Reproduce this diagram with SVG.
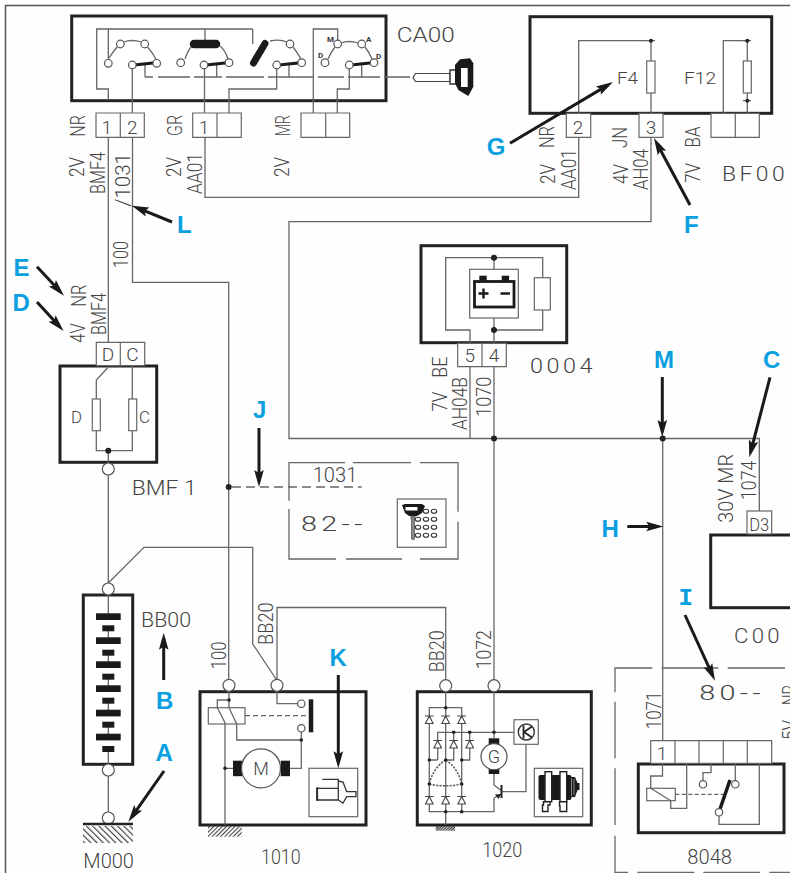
<svg xmlns="http://www.w3.org/2000/svg" width="790" height="873" viewBox="0 0 790 873">
<style>
.w{fill:none;stroke:#666;stroke-width:1.3}
.d{fill:none;stroke:#666;stroke-width:1.3;stroke-dasharray:9 5}
.b{fill:#fff;stroke:#222;stroke-width:3}
.f{fill:#fff;stroke:#666;stroke-width:1.2}
.c{fill:#fff;stroke:#555;stroke-width:1.2}
.k{fill:#1a1a1a;stroke:none}
.tb{fill:none;stroke:#1a1a1a;stroke-width:3;stroke-linecap:round}
.a{fill:none;stroke:#1a1a1a;stroke-width:3}
text{font-family:"Roboto","Liberation Sans",sans-serif;font-weight:300;fill:#444;font-size:20px}
.s{font-size:15px}
.m{font-size:19px;text-anchor:middle}
.y{font-size:8px;font-weight:700;fill:#333}
.l{font-family:"Liberation Sans",sans-serif;font-weight:700;fill:#0a9fe0;font-size:24px}
.e{text-anchor:middle}
.n{letter-spacing:3px}
</style>
<defs>
<marker id="arr" markerUnits="userSpaceOnUse" markerWidth="18" markerHeight="12" refX="11" refY="6" orient="auto"><path d="M0 1.2L17 6L0 10.8L3 6z" fill="#1a1a1a"/></marker>
<pattern id="h1" width="4.4" height="4.4" patternUnits="userSpaceOnUse" patternTransform="rotate(-45)"><rect width="1.2" height="4.4" fill="#444"/></pattern>
<pattern id="h2" width="3" height="3" patternUnits="userSpaceOnUse" patternTransform="rotate(45)"><rect width="1.1" height="3" fill="#444"/></pattern>
<pattern id="h3" width="2" height="2" patternUnits="userSpaceOnUse" patternTransform="rotate(45)"><rect width="1.2" height="2" fill="#333"/></pattern>
</defs>
<rect width="790" height="873" fill="#fefefe"/>
<path d="M790 5.5H5.5V873" fill="none" stroke="#555" stroke-width="1.5"/>

<g id="connectors">
<path class="w" d="M108.3 137V583"/>
<path class="w" d="M132.5 137V282.3H228.7V680"/>
<path class="w" d="M205 137V197.3H578.7V137"/>
<path class="w" d="M651 137V221.7H289V438.5H759.3V511"/>
<path class="w" d="M470 366V438.5"/>
<path class="w" d="M494 366V680"/>
<path class="w" d="M662.7 438.5V741"/>
<path class="w" d="M108.3 583L144 547.3H252.7V644L276.7 680"/>
<path class="w" d="M277 680V607.5H445.7V680"/>
<path class="w" d="M108.3 776V812"/>
<path class="d" d="M232 487H361.7"/>
<circle cx="228.7" cy="487" r="3" fill="#222"/>
<circle cx="494" cy="438.5" r="3" fill="#222"/>
<circle cx="662.7" cy="438.5" r="3" fill="#222"/>
</g>

<g id="CA00">
<rect class="b" x="71.7" y="16" width="314.3" height="84.7"/>
<path class="w" d="M108.3 100V89H96.7V29H252.7M108.3 29V58M108.3 59Q113 52 117 47M123.5 42Q132 39 141.5 42M147.5 47Q152 52 156 59"/>
<path class="w" d="M205 29V40M185 59Q188 50 192 46M220 46Q225 50 228 59M252.7 29V44"/>
<path class="w" d="M270 41Q280 39 287 42M293 47Q297 52 301 59"/>
<path class="w" d="M313.3 113V29H337.7V40M328 59Q331 52 335 47M341 43Q349 40 358.5 43M365 47Q369 52 372 59"/>
<path class="w" d="M132.3 69V113M204.5 69V113M276.7 69V89H229V113M349.3 69V89H337.3V113M216.7 64V77M289 64V77M361.7 64V77M145 65V77"/>
<path class="w" d="M145 77H153M158 77H190M194 77H222M226 77H264M268 77H314M318 77H344M348 77H380M384 77H410"/>
<path class="tb" d="M134 65L153 63M206 65L225 63M279 65L298 63M351 65L370 63"/>
<path d="M194 44H216" stroke="#1a1a1a" stroke-width="8.5" stroke-linecap="round"/>
<path d="M253.5 63L265 43.5" stroke="#1a1a1a" stroke-width="7" stroke-linecap="round"/>
<g class="c"><circle cx="108.3" cy="63.3" r="3.8"/><circle cx="120.3" cy="44" r="3.8"/><circle cx="144.7" cy="44" r="3.8"/><circle cx="156.7" cy="63.3" r="3.8"/><circle cx="132.3" cy="65" r="3.8"/>
<circle cx="180.7" cy="62.7" r="3.8"/><circle cx="229" cy="62.7" r="3.8"/><circle cx="204" cy="65" r="3.8"/>
<circle cx="290" cy="44" r="3.8"/><circle cx="301.7" cy="62.7" r="3.8"/><circle cx="276.7" cy="65" r="3.8"/>
<circle cx="325" cy="62.7" r="3.8"/><circle cx="337.7" cy="44" r="3.8"/><circle cx="361.7" cy="44" r="3.8"/><circle cx="374" cy="62.7" r="3.8"/><circle cx="349.3" cy="65" r="3.8"/></g>
<text class="y" x="327" y="42">M</text><text class="y" x="366" y="42">A</text><text class="y" x="318" y="58">D</text><text class="y" x="376" y="59">D</text>
<path class="f" d="M96 113H144.3V137.3H96ZM120.3 113V137.3M192.7 113H241.3V137.3H192.7ZM217 113V137.3M301 113H349.7V137.3H301ZM325.7 113V137.3"/>
<text class="m" x="106.7" y="133.5">1</text><text class="m" x="132.3" y="133.5">2</text><text class="m" x="204" y="133.5">1</text>
<text x="396.7" y="42.3" textLength="58" lengthAdjust="spacingAndGlyphs">CA00</text>
<text transform="translate(85,136.7) rotate(-90)" textLength="21.7" lengthAdjust="spacingAndGlyphs">NR</text>
<text transform="translate(84,177) rotate(-90)" textLength="20" lengthAdjust="spacingAndGlyphs">2V</text>
<text transform="translate(105,194) rotate(-90)" textLength="42" lengthAdjust="spacingAndGlyphs">BMF4</text>
<text transform="translate(130,206.7) rotate(-90)" textLength="53.7" lengthAdjust="spacingAndGlyphs">/1031</text>
<text transform="translate(181.7,136) rotate(-90)" textLength="21" lengthAdjust="spacingAndGlyphs">GR</text>
<text transform="translate(180.7,177) rotate(-90)" textLength="20" lengthAdjust="spacingAndGlyphs">2V</text>
<text transform="translate(201.7,194) rotate(-90)" textLength="41" lengthAdjust="spacingAndGlyphs">AA01</text>
<text transform="translate(290,136) rotate(-90)" textLength="21" lengthAdjust="spacingAndGlyphs">MR</text>
<text transform="translate(289.3,177) rotate(-90)" textLength="20" lengthAdjust="spacingAndGlyphs">2V</text>
<path d="M415.5 73.5H450V81.5H415.5L413 77.5Z" fill="#fff" stroke="#444" stroke-width="1.2"/>
<path d="M450 70H456V84H450Z" fill="#fff" stroke="#333" stroke-width="1.4"/>
<path d="M455 65L460 59.3L470 58.3L473.3 63.3V86.7L468.3 96L458.3 90L455 83.3Z" class="k"/>
<path d="M461 68H467.7V87H461Z" fill="#fff"/>
</g>

<g id="BF00">
<rect class="b" x="530" y="16.7" width="241.7" height="96.6"/>
<path class="w" d="M578.7 113V40.7H651V113M723.3 113V40.7H747.3V113"/>
<rect class="f" x="646.7" y="61" width="8.3" height="32"/>
<rect class="f" x="743.3" y="61" width="8" height="32"/>
<path class="w" d="M647 40.7H655M743 40.7H751M743 100.7H751"/>
<circle cx="651" cy="40.7" r="2" fill="#222"/><circle cx="747.3" cy="40.7" r="2" fill="#222"/><circle cx="747.3" cy="100.7" r="2" fill="#222"/>
<text class="s" x="617" y="84.3" style="font-size:17px" textLength="21" lengthAdjust="spacingAndGlyphs">F4</text>
<text class="s" x="684" y="84.3" style="font-size:17px" textLength="32" lengthAdjust="spacingAndGlyphs">F12</text>
<path class="f" d="M566.3 113.3H590.7V137.3H566.3ZM639 113.3H663V137.3H639ZM711 113.3H759.3V137.3H711ZM735.3 113.3V137.3"/>
<text class="m" x="578" y="133.5">2</text><text class="m" x="651" y="133.5">3</text>
<text transform="translate(554,148) rotate(-90)" textLength="22" lengthAdjust="spacingAndGlyphs">NR</text>
<text transform="translate(555,184) rotate(-90)" textLength="20" lengthAdjust="spacingAndGlyphs">2V</text>
<text transform="translate(576,190) rotate(-90)" textLength="41" lengthAdjust="spacingAndGlyphs">AA01</text>
<text transform="translate(627,148) rotate(-90)" textLength="21" lengthAdjust="spacingAndGlyphs">JN</text>
<text transform="translate(627.7,184) rotate(-90)" textLength="20" lengthAdjust="spacingAndGlyphs">4V</text>
<text transform="translate(647.7,190) rotate(-90)" textLength="41" lengthAdjust="spacingAndGlyphs">AH04</text>
<text transform="translate(700,147.5) rotate(-90)" textLength="21" lengthAdjust="spacingAndGlyphs">BA</text>
<text transform="translate(700,183) rotate(-90)" textLength="20" lengthAdjust="spacingAndGlyphs">7V</text>
<text class="n" x="722" y="181" textLength="66" lengthAdjust="spacingAndGlyphs">BF00</text>
</g>

<g id="BMF1">
<rect class="b" x="60" y="366" width="96.7" height="96.3"/>
<path class="f" d="M96.3 342.3H144.7V365.7H96.3ZM120.3 342.3V365.7"/>
<path class="w" d="M132.3 366V450.7H96.3V380L107.5 368M108.3 450.7V463"/>
<rect class="f" x="92.3" y="399" width="8" height="31.7"/><rect class="f" x="128.7" y="399" width="8" height="31.7"/>
<circle cx="108.3" cy="450.7" r="3" fill="#222"/>
<circle class="c" cx="108.3" cy="469" r="6"/>
<text class="m" x="108" y="360.7">D</text><text class="m" x="132.3" y="360.7">C</text>
<text x="71" y="422.7" style="font-size:17px" textLength="11" lengthAdjust="spacingAndGlyphs">D</text>
<text x="139" y="422.7" style="font-size:17px" textLength="11" lengthAdjust="spacingAndGlyphs">C</text>
<text x="131.7" y="495" textLength="65" lengthAdjust="spacingAndGlyphs">BMF 1</text>
<text transform="translate(128,268) rotate(-90)" textLength="27" lengthAdjust="spacingAndGlyphs">100</text>
<text transform="translate(85.7,306.7) rotate(-90)" textLength="22" lengthAdjust="spacingAndGlyphs">NR</text>
<text transform="translate(85,342.7) rotate(-90)" textLength="19.5" lengthAdjust="spacingAndGlyphs">4V</text>
<text transform="translate(106,335) rotate(-90)" textLength="42" lengthAdjust="spacingAndGlyphs">BMF4</text>
</g>

<g id="n0004">
<rect class="b" x="421" y="245.7" width="145.7" height="97"/>
<path class="w" d="M494 257.7H445.7V330H470V343M494 257.7H542.7V277.7M542.7 310V330H494V343M494 257.7V269.3M494 318V330"/>
<rect class="f" x="534.3" y="277.7" width="16" height="32.3"/>
<rect class="f" x="469.7" y="269.3" width="48.6" height="48.7"/>
<rect x="474.5" y="281.5" width="39.5" height="25.5" fill="#fff" stroke="#1a1a1a" stroke-width="2.8"/>
<rect class="k" x="479.3" y="275.7" width="7.4" height="5"/><rect class="k" x="501.7" y="275.7" width="7.4" height="5"/>
<path d="M478.5 293.5H488.5M483.5 288.5V298.5M500.5 293.5H510" stroke="#1a1a1a" stroke-width="2.4"/>
<circle cx="494" cy="257.7" r="3" fill="#222"/><circle cx="494" cy="330" r="3" fill="#222"/>
<path class="f" d="M457.7 343.3H506.3V366.7H457.7ZM482 343.3V366.7"/>
<text class="m" x="469.7" y="361.7">5</text><text class="m" x="494" y="361.7">4</text>
<text class="n" x="530" y="373.3" textLength="66" lengthAdjust="spacingAndGlyphs">0004</text>
<text transform="translate(447.3,377.7) rotate(-90)" textLength="21" lengthAdjust="spacingAndGlyphs">BE</text>
<text transform="translate(446.7,411.7) rotate(-90)" textLength="20" lengthAdjust="spacingAndGlyphs">7V</text>
<text transform="translate(467.3,430) rotate(-90)" textLength="53" lengthAdjust="spacingAndGlyphs">AH04B</text>
<text transform="translate(491,416.7) rotate(-90)" textLength="40" lengthAdjust="spacingAndGlyphs">1070</text>
</g>

<g id="n82">
<path class="w" d="M289 500.7V462.7H345M353 462.7H411M420 462.7H458V511.7M458 521.7V559H420M402 559H346M336 559H289V509"/>
<text x="312.7" y="482.3" textLength="44.6" lengthAdjust="spacingAndGlyphs">1031</text>
<text class="n" x="301" y="530.7" textLength="65.7" lengthAdjust="spacingAndGlyphs">82--</text>
<rect class="f" x="397.3" y="499" width="48.7" height="48.3"/>
<g fill="#fff" stroke="#333" stroke-width="1.1"><ellipse cx="426" cy="511.3" rx="2.7" ry="2"/><ellipse cx="434" cy="511.3" rx="2.7" ry="2"/><ellipse cx="418" cy="519.3" rx="2.7" ry="2"/><ellipse cx="426" cy="519.3" rx="2.7" ry="2"/><ellipse cx="434" cy="519.3" rx="2.7" ry="2"/><ellipse cx="418" cy="527.3" rx="2.7" ry="2"/><ellipse cx="426" cy="527.3" rx="2.7" ry="2"/><ellipse cx="434" cy="527.3" rx="2.7" ry="2"/><ellipse cx="418" cy="535.3" rx="2.7" ry="2"/><ellipse cx="426" cy="535.3" rx="2.7" ry="2"/><ellipse cx="434" cy="535.3" rx="2.7" ry="2"/></g>
<path class="k" d="M402 505L405 504H422L425 506L422 513L417 516H409L405 513Z"/>
<rect x="405.5" y="507" width="12" height="3.5" fill="#fff"/>
<path d="M411 516H415V519H414.5V539L413 540L411.5 539V519H411Z" fill="#888" stroke="#444" stroke-width=".7"/>
</g>

<g id="BB00">
<rect class="b" x="83.3" y="595" width="49.4" height="169.3"/>
<path class="w" d="M108.3 595V616M108.3 628V641M108.3 653V665M108.3 677V689M108.3 701V713M108.3 725V737M108.3 749V764"/>
<g class="k"><rect x="96" y="613.3" width="24.7" height="6.7"/><rect x="102.3" y="625.3" width="12" height="6"/><rect x="96" y="637.3" width="24.7" height="6.7"/><rect x="102.3" y="649.7" width="12" height="6"/><rect x="96" y="661.3" width="24.7" height="6.7"/><rect x="102.3" y="673.7" width="12" height="6"/><rect x="96" y="685.3" width="24.7" height="6.7"/><rect x="102.3" y="697.7" width="12" height="6"/><rect x="96" y="709.7" width="24.7" height="6.7"/><rect x="102.3" y="721.7" width="12" height="6"/><rect x="96" y="733.7" width="24.7" height="6.7"/><rect x="102.3" y="746" width="12" height="6"/></g>
<circle class="c" cx="108.3" cy="589" r="6"/><circle class="c" cx="108.3" cy="770" r="6"/>
<text x="141" y="627.3" textLength="50" lengthAdjust="spacingAndGlyphs">BB00</text>
</g>

<g id="M000">
<circle class="c" cx="108.3" cy="818" r="6"/>
<path d="M83 824H133" stroke="#222" stroke-width="2.5"/>
<rect x="83" y="826" width="50" height="17" fill="url(#h1)"/>
<text x="83.3" y="868" textLength="50.7" lengthAdjust="spacingAndGlyphs">M000</text>
</g>

<g id="n1010">
<rect class="b" x="200" y="691.7" width="166" height="133.3"/>
<circle class="c" cx="229" cy="685.3" r="6"/><circle class="c" cx="277" cy="685.3" r="6"/>
<rect class="f" x="208.3" y="707.7" width="36.7" height="16.3"/>
<path class="w" d="M229 691V707.7L236.7 724V740H301.3M229 700H217.3V707.7L225 722.7V825M277 691V703.7H297.6M301.3 732V768.3H290M225 768.3H233"/>
<path class="w" d="M245 715.7H306.7" stroke-dasharray="5 3"/>
<rect class="k" x="233" y="760.7" width="9" height="15.5"/><rect class="k" x="280.7" y="760.7" width="9.3" height="15.5"/>
<circle class="c" cx="261" cy="768.3" r="19.5"/>
<text class="e" x="261" y="775" style="font-size:18px">M</text>
<circle cx="229" cy="700" r="1.8" fill="#222"/><circle cx="301.3" cy="740" r="1.8" fill="#222"/><circle cx="225" cy="768.3" r="1.8" fill="#222"/>
<circle class="c" cx="301.3" cy="703.7" r="3.7"/><circle class="c" cx="301.3" cy="728.3" r="3.7"/>
<path d="M311 699.3V732.3" stroke="#1a1a1a" stroke-width="4.5"/>
<rect x="208" y="826" width="33.7" height="10.7" fill="url(#h2)"/>
<rect class="f" x="309" y="768.3" width="48.7" height="48.4"/>
<path d="M316.7 788.3H338.3V800H316.7ZM322.3 779.3H338.3V788.3M338.3 781L343 782L346.7 791.7H356V796.7H346.7L343 803L338.3 800ZM317.5 787V801" fill="#fff" stroke="#333" stroke-width="1.3"/>
<text x="261" y="864" textLength="39.7" lengthAdjust="spacingAndGlyphs">1010</text>
<text transform="translate(225.7,669.3) rotate(-90)" textLength="27.7" lengthAdjust="spacingAndGlyphs">100</text>
<text transform="translate(272.7,645) rotate(-90)" textLength="42.7" lengthAdjust="spacingAndGlyphs">BB20</text>
</g>

<g id="n1020">
<rect class="b" x="417.3" y="691.7" width="174" height="133.3"/>
<circle class="c" cx="445.7" cy="685.7" r="6"/><circle class="c" cx="494" cy="685.7" r="6"/>
<path class="w" d="M445.7 691V825M429.3 811.7V707.7H461.7V811.7ZM429.3 811.7H494V798M437.7 760V732.3H514M453.7 732.3V760H445.7M469.7 732.3V760H461.7M429.3 760H437.7M494 691V738M494 774V785L501 790.5M501 794L494 798M501.7 791.7H526V744.3"/>
<path d="M445.7 760Q433 768 429.3 784M445.7 760Q458 768 461.7 784M429.3 784Q446 787.5 461.7 784" fill="none" stroke="#555" stroke-width="1.5" stroke-dasharray="2.2 1.2"/>
<path d="M501.5 785V798" stroke="#222" stroke-width="2"/>
<path d="M501 794L495 794.5L498.5 799Z" fill="#222"/>
<g fill="#fff" stroke="#444" stroke-width="1.1"><path d="M429.3 716L425.5 723.5H433.1ZM445.7 716L441.9 723.5H449.5ZM461.7 716L457.9 723.5H465.5ZM437.7 740.5L433.9 748H441.5ZM453.7 740.5L449.9 748H457.5ZM469.7 740.5L465.9 748H473.5ZM429.3 796.5L425.5 804H433.1ZM445.7 796.5L441.9 804H449.5ZM461.7 796.5L457.9 804H465.5Z"/>
<path d="M425 716H433.6M441.4 716H450M457.4 716H466M433.4 740.5H442M449.4 740.5H458M465.4 740.5H474M425 796.5H433.6M441.4 796.5H450M457.4 796.5H466"/></g>
<g fill="#222"><circle cx="445.7" cy="707.7" r="1.8"/><circle cx="453.7" cy="732.3" r="1.8"/><circle cx="469.7" cy="732.3" r="1.8"/><circle cx="494" cy="732.3" r="1.8"/><circle cx="429.3" cy="760" r="1.8"/><circle cx="445.7" cy="760" r="1.8"/><circle cx="461.7" cy="760" r="1.8"/><circle cx="429.3" cy="784" r="1.8"/><circle cx="461.7" cy="784" r="1.8"/><circle cx="445.7" cy="811.7" r="1.8"/><circle cx="461.7" cy="811.7" r="1.8"/></g>
<rect class="k" x="488.7" y="738.3" width="10.6" height="6.7"/><rect class="k" x="488.7" y="767.5" width="10.6" height="6.5"/>
<circle class="c" cx="494" cy="756.7" r="13" stroke-width="1.6"/>
<text class="e" x="494" y="763" style="font-size:18px">G</text>
<rect class="f" x="514" y="719.7" width="24.3" height="24.6"/>
<circle cx="526.3" cy="732" r="8" fill="#fff" stroke="#333" stroke-width="1.4"/>
<path d="M523.5 725.5V738.5M532 726.5L524 732L532 737.5" fill="none" stroke="#222" stroke-width="1.8"/>
<rect class="f" x="534.3" y="768.3" width="48.4" height="48.4"/>
<rect class="k" x="538.5" y="775" width="33" height="25" rx="2"/>
<path class="k" d="M571 777H575L577.5 783H579.5V790H577.5L575 797H571Z"/>
<path d="M571.5 778V796M574 779V795" stroke="#aaa" stroke-width=".8"/>
<g fill="#fff" stroke="#222" stroke-width="1.4"><rect x="545" y="771.7" width="6.7" height="30"/><rect x="560" y="771.7" width="6.7" height="30"/>
<path d="M543.5 801.7H550V805H548V811.5H542.5V805H543.5ZM559.5 801.7H566.7V811.5H560V806H559.5Z"/></g>
<rect x="435.7" y="826" width="19.3" height="4.7" fill="url(#h3)"/>
<text x="482.3" y="856.7" textLength="40" lengthAdjust="spacingAndGlyphs">1020</text>
<text transform="translate(444,672.3) rotate(-90)" textLength="42" lengthAdjust="spacingAndGlyphs">BB20</text>
<text transform="translate(490.7,669.3) rotate(-90)" textLength="39" lengthAdjust="spacingAndGlyphs">1072</text>
</g>

<g id="C00">
<rect class="b" x="710.7" y="535" width="90" height="72.7"/>
<rect class="f" x="747" y="511" width="24.7" height="23"/>
<text class="m" x="759.3" y="530.7" textLength="20" lengthAdjust="spacingAndGlyphs">D3</text>
<text class="n" x="734" y="643" textLength="49" lengthAdjust="spacingAndGlyphs">C00</text>
<text transform="translate(732.7,522.7) rotate(-90)" textLength="68.7" lengthAdjust="spacingAndGlyphs">30V MR</text>
<text transform="translate(755.7,500) rotate(-90)" textLength="39.3" lengthAdjust="spacingAndGlyphs">1074</text>
</g>

<g id="n80">
<path class="w" d="M615 692.3V668H652.3M661.7 668H718.3M727.7 668H785M615 701.7V758.3M615 768.3V825M615 835.7V872.3H628M637.3 872.3H694.3M703.3 872.3H760M769.3 872.3H790"/>
<text class="n" x="699.3" y="700" textLength="65.7" lengthAdjust="spacingAndGlyphs">80--</text>
<text transform="translate(796.7,705) rotate(-90)" textLength="20" lengthAdjust="spacingAndGlyphs">NR</text>
<text transform="translate(796.7,740) rotate(-90)" textLength="20" lengthAdjust="spacingAndGlyphs">5V</text>
<text transform="translate(660.7,729.3) rotate(-90)" textLength="37.7" lengthAdjust="spacingAndGlyphs">1071</text>
</g>

<g id="n8048">
<rect class="b" x="638.3" y="764" width="145.7" height="68.7"/>
<path class="f" d="M650.7 740.7H771.7V763.3H650.7ZM675 740.7V763.3M699 740.7V763.3M723.3 740.7V763.3M747.3 740.7V763.3"/>
<text class="m" x="662" y="760">1</text>
<path class="w" d="M662.5 764V776H650.7V788.3M670.7 800.7V808.3H686.7V764M703 780.6V772.7H711V764M735.3 780V764M719 816V824.3H759.3V764"/>
<rect class="f" x="646.7" y="788.3" width="28.6" height="12.4"/>
<path class="w" d="M675.3 794.3H723.3" stroke-dasharray="4 2.5"/>
<path class="w" d="M650.7 788.3L670.7 800.7"/>
<path d="M719 812L730 780" stroke="#1a1a1a" stroke-width="3.5"/>
<circle class="c" cx="703" cy="784.3" r="3.7"/><circle class="c" cx="735.3" cy="784.3" r="3.7"/><circle class="c" cx="719" cy="812.3" r="3.7"/>
<text x="687.3" y="864" textLength="44.7" lengthAdjust="spacingAndGlyphs">8048</text>
</g>

<g id="callouts">
<path class="a" marker-end="url(#arr)" d="M510 143.3L607.8 85.1"/>
<path class="a" marker-end="url(#arr)" d="M690 205L656.8 143.3"/>
<path class="a" marker-end="url(#arr)" d="M37 266.7L59.9 291.3"/>
<path class="a" marker-end="url(#arr)" d="M37 302L59.5 326.6"/>
<path class="a" marker-end="url(#arr)" d="M259 428V481"/>
<path class="a" marker-end="url(#arr)" d="M662.3 377V431"/>
<path class="a" marker-end="url(#arr)" d="M770 377.3L750.8 451.5"/>
<path class="a" marker-end="url(#arr)" d="M627.3 526.5H657.3"/>
<path class="a" marker-end="url(#arr)" d="M685 615L712.5 675.2"/>
<path class="a" marker-end="url(#arr)" d="M163.7 680V638.7"/>
<path class="a" marker-end="url(#arr)" d="M164 771L131.8 816.8"/>
<path class="a" marker-end="url(#arr)" d="M338.3 675V762.3"/>
<path class="a" marker-end="url(#arr)" d="M172 222L137.4 207.9"/>
<text class="l" x="486.7" y="155">G</text>
<text class="l" x="684" y="233">F</text>
<text class="l" x="13.5" y="276">E</text>
<text class="l" x="12.5" y="311">D</text>
<text class="l" x="253" y="418">J</text>
<text class="l" x="177" y="233">L</text>
<text class="l" x="654" y="368.3">M</text>
<text class="l" x="763" y="368">C</text>
<text class="l" x="601.5" y="536.7">H</text>
<text class="l" x="678.5" y="605" style="font-family:'Liberation Mono',monospace" textLength="14.5" lengthAdjust="spacingAndGlyphs">I</text>
<text class="l" x="156" y="709.3">B</text>
<text class="l" x="155.5" y="760.7">A</text>
<text class="l" x="329.5" y="665.7">K</text>
</g>
</svg>
